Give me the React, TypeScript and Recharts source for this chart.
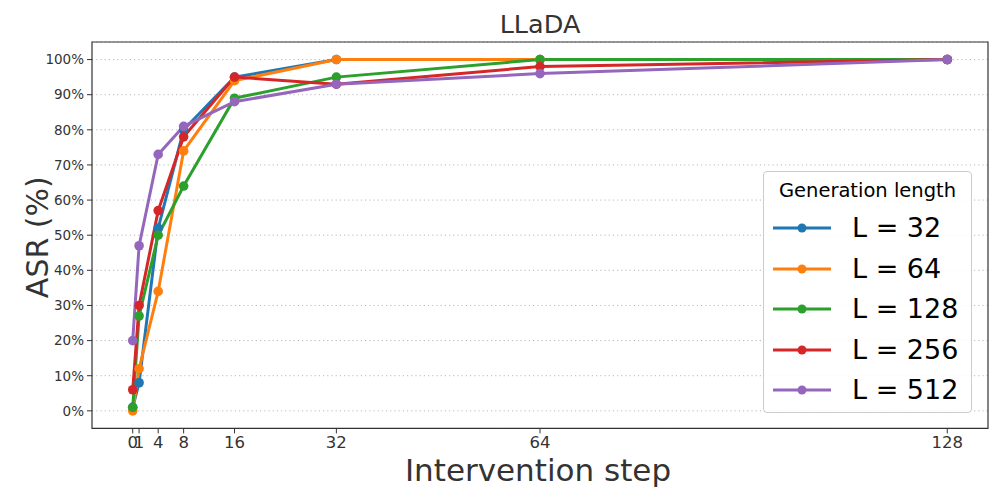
import React from "react";
import {
  LineChart,
  Line,
  XAxis,
  YAxis,
  CartesianGrid,
  ReferenceArea,
} from "recharts";

const steps = [0, 1, 4, 8, 16, 32, 64, 128];
const xTicks = [0, 1, 4, 8, 16, 32, 64, 128];
const yTicks = [0, 10, 20, 30, 40, 50, 60, 70, 80, 90, 100];

const asrL32 = [1, 8, 52, 80, 95, 100, 100, 100];
const asrL64 = [0, 12, 34, 74, 94, 100, 100, 100];
const asrL128 = [1, 27, 50, 64, 89, 95, 100, 100];
const asrL256 = [6, 30, 57, 78, 95, 93, 98, 100];
const asrL512 = [20, 47, 73, 81, 88, 93, 96, 100];

const seriesNames = ["L = 32", "L = 64", "L = 128", "L = 256", "L = 512"];
const seriesKeys = ["l32", "l64", "l128", "l256", "l512"];
const seriesValues = [asrL32, asrL64, asrL128, asrL256, asrL512];
const seriesColors = ["#1f77b4", "#ff7f0e", "#2ca02c", "#d62728", "#9467bd"];

const data = steps.map((s, i) => {
  const row: Record<string, number> = { step: s };
  seriesKeys.forEach((k, j) => {
    row[k] = seriesValues[j][i];
  });
  return row;
});

const FONT = "'DejaVu Sans', sans-serif";
const TEXT = "#333333";

const YLabel = (props: any) => {
  const vb = props.viewBox || { x: 0, y: 42, width: 92, height: 386 };
  const cx = vb.x + 38;
  const cy = vb.y + vb.height / 2 + 2;
  return (
    <text
      x={cx}
      y={cy}
      transform={`rotate(-90, ${cx}, ${cy})`}
      textAnchor="middle"
      dominantBaseline="central"
      fontSize={30}
      fill={TEXT}
      fontFamily={FONT}
    >
      ASR (%)
    </text>
  );
};

const XLabel = (props: any) => {
  const vb = props.viewBox || { x: 92, y: 428, width: 896, height: 70 };
  return (
    <text
      x={vb.x + vb.width / 2 - 2}
      y={vb.y + 42}
      textAnchor="middle"
      dominantBaseline="central"
      fontSize={31}
      fill={TEXT}
      fontFamily={FONT}
    >
      Intervention step
    </text>
  );
};

export default function App() {
  return (
    <div
      style={{
        position: "absolute",
        left: 0,
        top: 0,
        width: 996,
        height: 498,
        background: "#fff",
        fontFamily: FONT,
      }}
    >
      <div
        style={{
          position: "absolute",
          left: 92,
          width: 896,
          top: 6,
          height: 36,
          lineHeight: "36px",
          textAlign: "center",
          fontSize: 25.5,
          color: TEXT,
        }}
      >
        LLaDA
      </div>
      <LineChart
        width={996}
        height={498}
        data={data}
        margin={{ top: 42, right: 8, left: 0, bottom: 0 }}
      >
        <CartesianGrid
          vertical={false}
          stroke="#b8b8b8"
          strokeDasharray="1.2 3"
          strokeWidth={1}
        />
        <XAxis
          dataKey="step"
          type="number"
          domain={[-6.4, 134.4]}
          ticks={xTicks}
          interval={0}
          allowDataOverflow
          height={69.6}
          axisLine={false}
          tickLine={{ stroke: TEXT }}
          tickSize={5}
          tickMargin={3}
          tick={{ fontSize: 16.5, fill: TEXT, fontFamily: FONT }}
          label={<XLabel />}
        />
        <YAxis
          type="number"
          domain={[-5, 105]}
          ticks={yTicks}
          interval={0}
          allowDataOverflow
          width={92}
          axisLine={false}
          tickLine={{ stroke: TEXT }}
          tickSize={5}
          tickMargin={3}
          tickFormatter={(v: number) => `${v}%`}
          tick={{ fontSize: 13.5, fill: TEXT, fontFamily: FONT }}
          label={<YLabel />}
        />
        <ReferenceArea
          x1={-6.4}
          x2={134.4}
          y1={-5}
          y2={105}
          fill="none"
          stroke={TEXT}
          strokeWidth={1.2}
          ifOverflow="visible"
        />
        {seriesKeys.map((k, j) => (
          <Line
            key={k}
            dataKey={k}
            name={seriesNames[j]}
            stroke={seriesColors[j]}
            strokeWidth={3}
            dot={{ r: 4.8, fill: seriesColors[j], stroke: seriesColors[j], strokeWidth: 0 }}
            activeDot={false}
            isAnimationActive={false}
          />
        ))}
      </LineChart>
      <div
        style={{
          position: "absolute",
          left: 763,
          top: 171,
          width: 209,
          height: 242,
          boxSizing: "border-box",
          border: "1px solid #cccccc",
          borderRadius: 4,
          background: "rgba(255,255,255,0.85)",
        }}
      >
        <div
          style={{
            height: 36,
            lineHeight: "38px",
            textAlign: "center",
            fontSize: 19.5,
            color: "#000",
          }}
        >
          Generation length
        </div>
        {seriesNames.map((n, j) => (
          <div
            key={n}
            style={{
              height: 40.5,
              display: "flex",
              alignItems: "center",
            }}
          >
            <svg width={58} height={12} style={{ marginLeft: 9 }}>
              <line x1={0} y1={6} x2={58} y2={6} stroke={seriesColors[j]} strokeWidth={3} />
              <circle cx={29} cy={6} r={4.5} fill={seriesColors[j]} />
            </svg>
            <span
              style={{
                marginLeft: 21,
                fontSize: 27,
                color: "#000",
                lineHeight: "40px",
              }}
            >
              {n}
            </span>
          </div>
        ))}
      </div>
    </div>
  );
}
